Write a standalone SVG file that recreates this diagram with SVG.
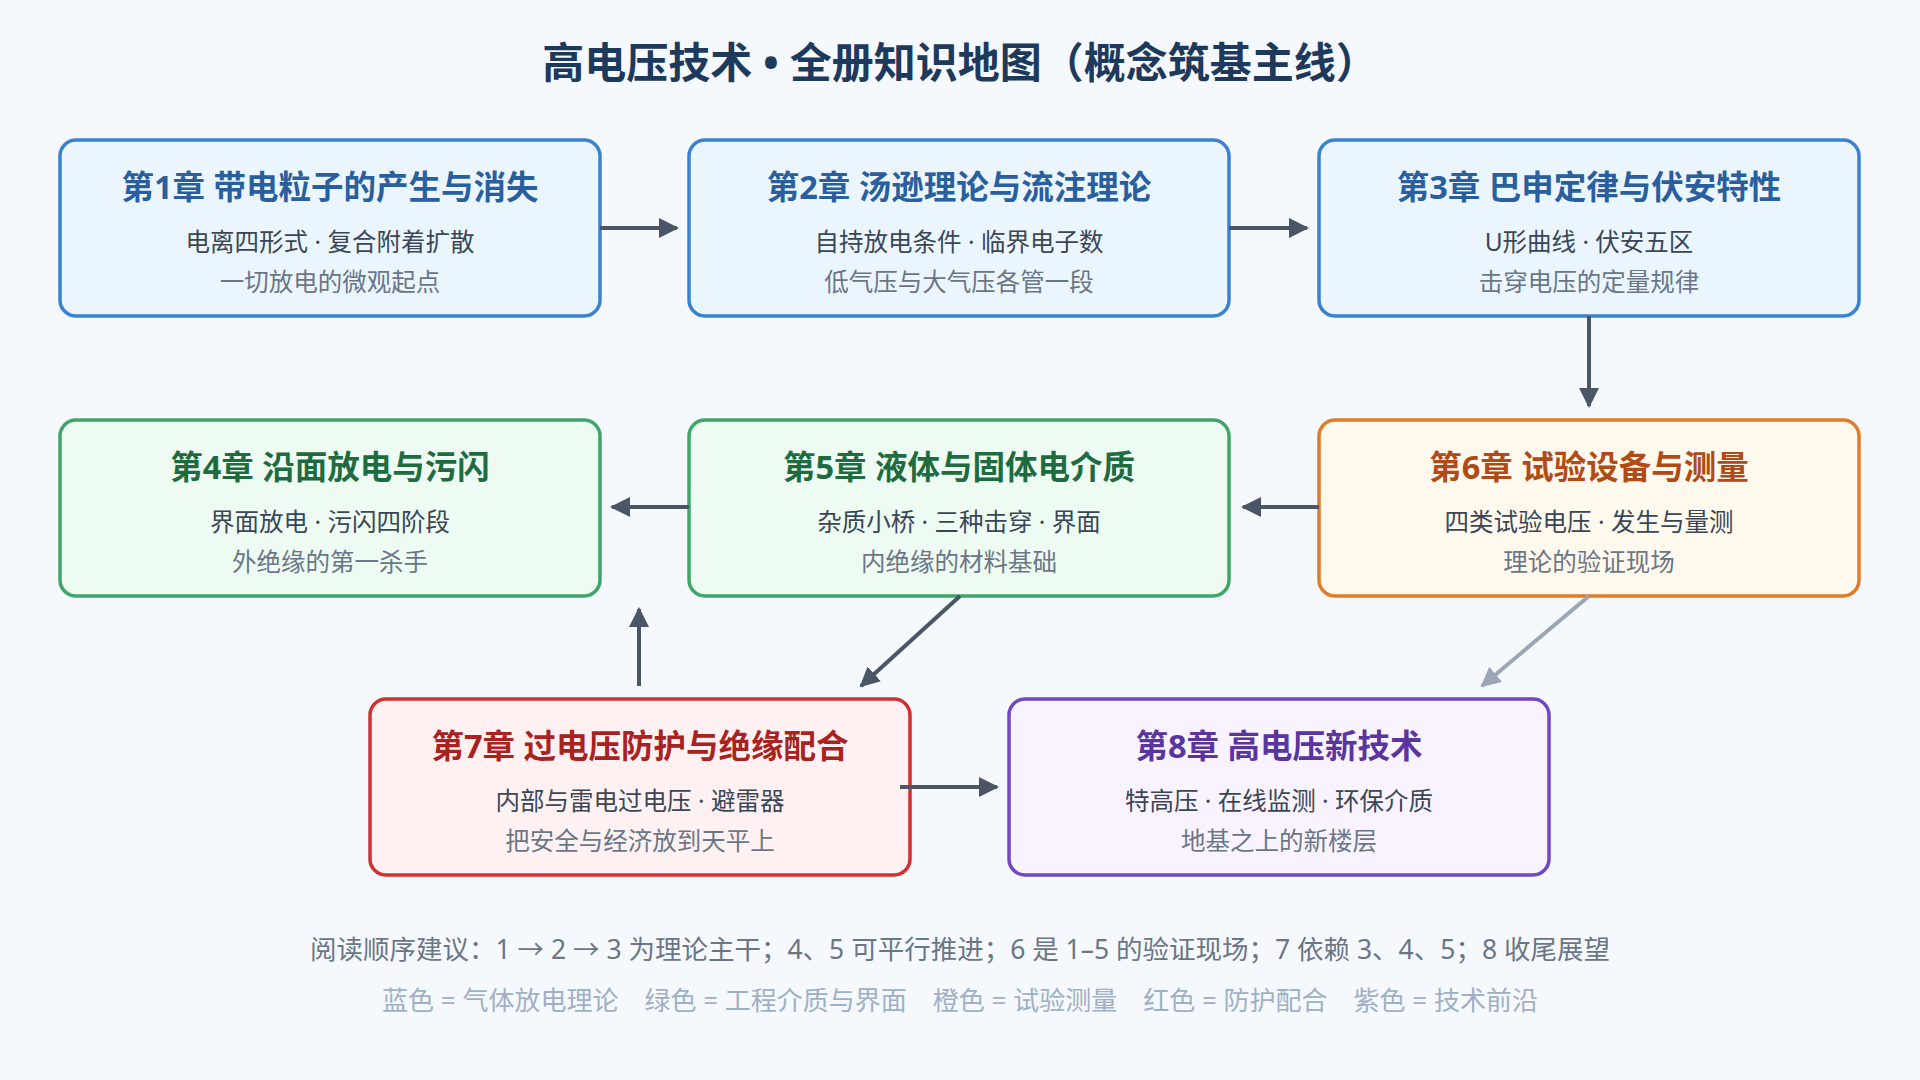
<svg xmlns="http://www.w3.org/2000/svg" width="1920" height="1080" viewBox="0 0 1920 1080">
<defs>
<marker id="ah" viewBox="0 0 10 10" refX="9" refY="5" markerWidth="5" markerHeight="5" orient="auto"><path d="M0,0 L10,5 L0,10 z" fill="#4a5566"/></marker>
<marker id="ahl" viewBox="0 0 10 10" refX="9" refY="5" markerWidth="5" markerHeight="5" orient="auto"><path d="M0,0 L10,5 L0,10 z" fill="#9aa6b4"/></marker>
<style>
text{font-family:"Noto Sans","Noto Sans CJK SC",sans-serif;text-anchor:middle}
.t{font-size:42px;font-weight:bold;fill:#1d3a5c}
.h{font-size:32.5px;font-weight:bold}
.s1{font-size:24.5px;fill:#3a4656}
.s2{font-size:24.5px;fill:#6a7686}
.box{stroke-width:3.5}
.blue rect{fill:#eaf5fe;stroke:#3a82d0}.blue .h{fill:#2a5f9e}
.green rect{fill:#edfbf2;stroke:#3fa66a}.green .h{fill:#1f6b40}
.orange rect{fill:#fff8ec;stroke:#e07b2a}.orange .h{fill:#b04a16}
.red rect{fill:#fff1f1;stroke:#d0302f}.red .h{fill:#a8231f}
.purple rect{fill:#f8f3ff;stroke:#7048c0}.purple .h{fill:#5a35a0}
.c{stroke:#4a5566;stroke-width:4;fill:none;marker-end:url(#ah)}
.cl{stroke:#9aa6b4;stroke-width:4;fill:none;marker-end:url(#ahl)}
.f1{font-size:26.5px;fill:#6a7686}
.f2{font-size:26px;fill:#9fb0c4}
</style>
</defs>
<rect width="1920" height="1080" fill="#f5f8fc"/>
<text class="t" x="960" y="78">高电压技术 • 全册知识地图（概念筑基主线）</text>

<g id="n1" class="blue"><rect class="box" x="60" y="140" width="540" height="176" rx="16"/><text class="h" x="330" y="199">第1章 带电粒子的产生与消失</text><text class="s1" x="330" y="251">电离四形式 · 复合附着扩散</text><text class="s2" x="330" y="291">一切放电的微观起点</text></g>
<g id="n2" class="blue"><rect class="box" x="689" y="140" width="540" height="176" rx="16"/><text class="h" x="959" y="199">第2章 汤逊理论与流注理论</text><text class="s1" x="959" y="251">自持放电条件 · 临界电子数</text><text class="s2" x="959" y="291">低气压与大气压各管一段</text></g>
<g id="n3" class="blue"><rect class="box" x="1319" y="140" width="540" height="176" rx="16"/><text class="h" x="1589" y="199">第3章 巴申定律与伏安特性</text><text class="s1" x="1589" y="251">U形曲线 · 伏安五区</text><text class="s2" x="1589" y="291">击穿电压的定量规律</text></g>
<g id="n4" class="green"><rect class="box" x="60" y="420" width="540" height="176" rx="16"/><text class="h" x="330" y="479">第4章 沿面放电与污闪</text><text class="s1" x="330" y="531">界面放电 · 污闪四阶段</text><text class="s2" x="330" y="571">外绝缘的第一杀手</text></g>
<g id="n5" class="green"><rect class="box" x="689" y="420" width="540" height="176" rx="16"/><text class="h" x="959" y="479">第5章 液体与固体电介质</text><text class="s1" x="959" y="531">杂质小桥 · 三种击穿 · 界面</text><text class="s2" x="959" y="571">内绝缘的材料基础</text></g>
<g id="n6" class="orange"><rect class="box" x="1319" y="420" width="540" height="176" rx="16"/><text class="h" x="1589" y="479">第6章 试验设备与测量</text><text class="s1" x="1589" y="531">四类试验电压 · 发生与量测</text><text class="s2" x="1589" y="571">理论的验证现场</text></g>
<g id="n7" class="red"><rect class="box" x="370" y="699" width="540" height="176" rx="16"/><text class="h" x="640" y="758">第7章 过电压防护与绝缘配合</text><text class="s1" x="640" y="810">内部与雷电过电压 · 避雷器</text><text class="s2" x="640" y="850">把安全与经济放到天平上</text></g>
<g id="n8" class="purple"><rect class="box" x="1009" y="699" width="540" height="176" rx="16"/><text class="h" x="1279" y="758">第8章 高电压新技术</text><text class="s1" x="1279" y="810">特高压 · 在线监测 · 环保介质</text><text class="s2" x="1279" y="850">地基之上的新楼层</text></g>

<g id="connectors">
<line class="c" x1="600" y1="228" x2="677" y2="228"/>
<line class="c" x1="1229" y1="228" x2="1307" y2="228"/>
<line class="c" x1="1589" y1="316" x2="1589" y2="406"/>
<line class="c" x1="1319" y1="507" x2="1243" y2="507"/>
<line class="c" x1="689" y1="507" x2="612" y2="507"/>
<line class="c" x1="960" y1="596" x2="861" y2="686"/>
<line class="cl" x1="1589" y1="596" x2="1482" y2="686"/>
<line class="c" x1="639" y1="686" x2="639" y2="609"/>
<line class="c" x1="900" y1="787" x2="997" y2="787"/>
</g>

<text class="f1" x="960" y="959">阅读顺序建议：1 → 2 → 3 为理论主干；4、5 可平行推进；6 是 1–5 的验证现场；7 依赖 3、4、5；8 收尾展望</text>
<text class="f2" x="960" y="1010">蓝色 = 气体放电理论　绿色 = 工程介质与界面　橙色 = 试验测量　红色 = 防护配合　紫色 = 技术前沿</text>
</svg>
